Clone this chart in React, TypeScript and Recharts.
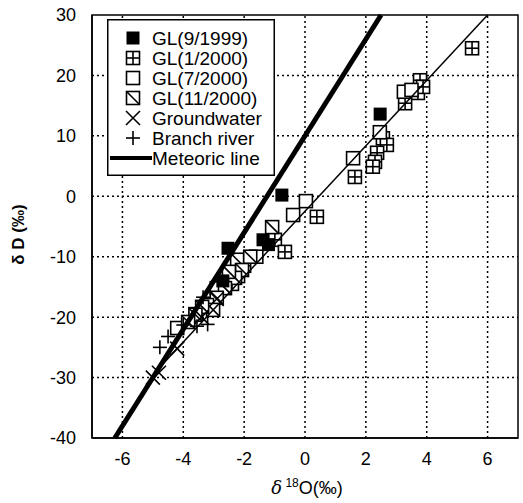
import {
  ReferenceArea,
  ReferenceLine,
  Scatter,
  ScatterChart,
  XAxis,
  YAxis,
} from "recharts";

type Pt = { x: number; y: number };
const pts = (a: number[][]): Pt[] => a.map(([x, y]) => ({ x, y }));

const xTicks = [-6, -4, -2, 0, 2, 4, 6];
const yTicks = [-40, -30, -20, -10, 0, 10, 20, 30];
const yGrid = [-30, -20, -10, 0, 10, 20];

const gl1999 = pts([
  [-0.76, 0.2], [2.47, 13.6], [-2.53, -8.6], [-1.38, -7.2], [-1.2, -8.0], [-2.7, -14.0],
]);
const gl012000 = pts([
  [5.49, 24.5], [3.78, 19.2], [3.71, 17.1], [3.88, 18.1], [3.29, 15.4], [2.56, 9.6],
  [2.69, 8.5], [2.37, 7.2], [2.3, 5.7], [2.23, 4.9], [1.64, 3.2], [0.39, -3.4],
  [-0.99, -7.2], [-0.66, -9.2], [-2.0, -11.5], [-2.4, -14.5], [-2.2, -13.2],
]);
const gl072000 = pts([
  [3.25, 17.3], [3.5, 17.6], [2.46, 10.6], [1.58, 6.3], [0.03, -0.8], [-0.39, -3.1],
  [-4.2, -21.8], [-3.6, -19.5], [-2.9, -15.2], [-2.1, -11], [-1.6, -10.0],
]);
const gl112000 = pts([
  [-1.08, -5.1], [-2.23, -10.5], [-2.07, -12.2], [-2.3, -13.5], [-2.63, -15.2],
  [-2.9, -16.8], [-3.22, -18], [-3.02, -18.8], [-3.38, -18.3], [-3.6, -19.6],
  [-3.84, -20.8], [-1.8, -10], [-2.5, -12.5],
]);
const groundwater = pts([
  [-5.0, -30], [-4.8, -29.2], [-4.2, -25.2], [-3.4, -20], [-2.9, -17],
]);
const branchRiver = pts([
  [-4.77, -25], [-4.5, -23.2], [-4.0, -21.3], [-3.55, -21.5], [-3.2, -21.2], [-3.35, -16.7],
]);
// meteoric water line dD = 8 d18O + 10, and the local fit line
const meteoricLine = pts([[-6.25, -40], [2.5, 30]]);
const localLine = pts([[-4.9, -29], [6, 30]]);

const S = 6.5;

const FilledSq = ({ cx, cy }: any) => (
  <rect x={cx - S} y={cy - S} width={2 * S} height={2 * S} fill="#000" />
);
const OpenSq = ({ cx, cy }: any) => (
  <rect x={cx - S} y={cy - S} width={2 * S} height={2 * S} fill="#fff" stroke="#000" strokeWidth={1.6} />
);
const CrossSq = ({ cx, cy }: any) => (
  <g stroke="#000" strokeWidth={1.6}>
    <rect x={cx - S} y={cy - S} width={2 * S} height={2 * S} fill="#fff" />
    <line x1={cx} y1={cy - S} x2={cx} y2={cy + S} />
    <line x1={cx - S} y1={cy} x2={cx + S} y2={cy} />
  </g>
);
const DiagSq = ({ cx, cy }: any) => (
  <g stroke="#000" strokeWidth={1.6}>
    <rect x={cx - S} y={cy - S} width={2 * S} height={2 * S} fill="#fff" />
    <line x1={cx - S} y1={cy - S} x2={cx + S} y2={cy + S} />
  </g>
);
const XMark = ({ cx, cy }: any) => (
  <g stroke="#000" strokeWidth={1.6}>
    <line x1={cx - 7} y1={cy - 7} x2={cx + 7} y2={cy + 7} />
    <line x1={cx - 7} y1={cy + 7} x2={cx + 7} y2={cy - 7} />
  </g>
);
const PlusMark = ({ cx, cy }: any) => (
  <g stroke="#000" strokeWidth={1.6}>
    <line x1={cx - 7} y1={cy} x2={cx + 7} y2={cy} />
    <line x1={cx} y1={cy - 7} x2={cx} y2={cy + 7} />
  </g>
);
const NoDot = () => <g />;

const legendRows = [
  { name: "GL(9/1999)", Mark: FilledSq },
  { name: "GL(1/2000)", Mark: CrossSq },
  { name: "GL(7/2000)", Mark: OpenSq },
  { name: "GL(11/2000)", Mark: DiagSq },
  { name: "Groundwater", Mark: XMark },
  { name: "Branch river", Mark: PlusMark },
  { name: "Meteoric line", Mark: null },
];

const font = "'Liberation Sans', Arial, sans-serif";
const gridStyle = { stroke: "#000", strokeWidth: 1.5, strokeDasharray: "2 3" };

function LegendBox() {
  return (
    <svg width={168} height={157} style={{ display: "block" }}>
      <rect x={0.75} y={0.75} width={166.5} height={155.5} fill="#fff" stroke="#000" strokeWidth={1.5} />
      {legendRows.map((r, i) => {
        const cy = 19 + i * 20;
        return (
          <g key={r.name}>
            {r.Mark ? (
              <r.Mark cx={26} cy={cy} />
            ) : (
              <line x1={3} y1={cy} x2={45} y2={cy} stroke="#000" strokeWidth={4} />
            )}
            <text x={45} y={cy + 7} fontSize={19} fontFamily={font} fill="#000">
              {r.name}
            </text>
          </g>
        );
      })}
    </svg>
  );
}

export default function App() {
  return (
    <div style={{ position: "absolute", left: 0, top: 0, width: 523, height: 503, background: "#fff" }}>
      <ScatterChart width={523} height={503} margin={{ top: 15, right: 5, bottom: 0, left: 0 }}>
        <XAxis
          type="number"
          dataKey="x"
          domain={[-7, 7]}
          ticks={xTicks}
          height={65}
          tickLine={false}
          tickMargin={8}
          axisLine={{ stroke: "#000", strokeWidth: 1.5 }}
          tick={{ fill: "#000", fontSize: 18, fontFamily: font }}
          label={{
            content: ({ viewBox }: any) => (
              <text
                x={viewBox.x + viewBox.width / 2 + 2}
                y={viewBox.y + 56}
                textAnchor="middle"
                fontSize={18}
                fontFamily={font}
                fill="#000"
              >
                <tspan fontStyle="italic" fontFamily="'DejaVu Serif', serif">δ</tspan>
                <tspan dy={-7} fontSize={12}> 18</tspan>
                <tspan dy={7}>O(‰)</tspan>
              </text>
            ),
          }}
        />
        <YAxis
          type="number"
          dataKey="y"
          domain={[-40, 30]}
          ticks={yTicks}
          width={92}
          tickLine={false}
          tickMargin={10}
          axisLine={{ stroke: "#000", strokeWidth: 1.5 }}
          tick={{ fill: "#000", fontSize: 18, fontFamily: font }}
          label={{
            content: ({ viewBox }: any) => {
              const x = 24;
              const y = viewBox.y + viewBox.height / 2 + 8;
              return (
                <text
                  x={x}
                  y={y}
                  transform={`rotate(-90 ${x} ${y})`}
                  textAnchor="middle"
                  fontSize={17}
                  fontWeight="bold"
                  fontFamily={font}
                  fill="#000"
                >
                  δ D  (‰)
                </text>
              );
            },
          }}
        />
        {xTicks.map((t) => (
          <ReferenceLine key={`gx${t}`} x={t} {...gridStyle} />
        ))}
        {yGrid.map((t) => (
          <ReferenceLine key={`gy${t}`} y={t} {...gridStyle} />
        ))}
        <ReferenceArea x1={-7} x2={7} y1={-40} y2={30} fill="none" stroke="#000" strokeWidth={1.5} />
        <Scatter data={gl012000} shape={CrossSq} isAnimationActive={false} />
        <Scatter data={gl072000} shape={OpenSq} isAnimationActive={false} />
        <Scatter data={gl112000} shape={DiagSq} isAnimationActive={false} />
        <Scatter data={gl1999} shape={FilledSq} isAnimationActive={false} />
        <Scatter data={groundwater} shape={XMark} isAnimationActive={false} />
        <Scatter data={branchRiver} shape={PlusMark} isAnimationActive={false} />
        <Scatter data={localLine} line={{ stroke: "#000", strokeWidth: 1.5 }} shape={NoDot} isAnimationActive={false} />
        <Scatter data={meteoricLine} line={{ stroke: "#000", strokeWidth: 5 }} shape={NoDot} isAnimationActive={false} />
      </ScatterChart>
      <div style={{ position: "absolute", left: 107, top: 19 }}>
        <LegendBox />
      </div>
    </div>
  );
}
